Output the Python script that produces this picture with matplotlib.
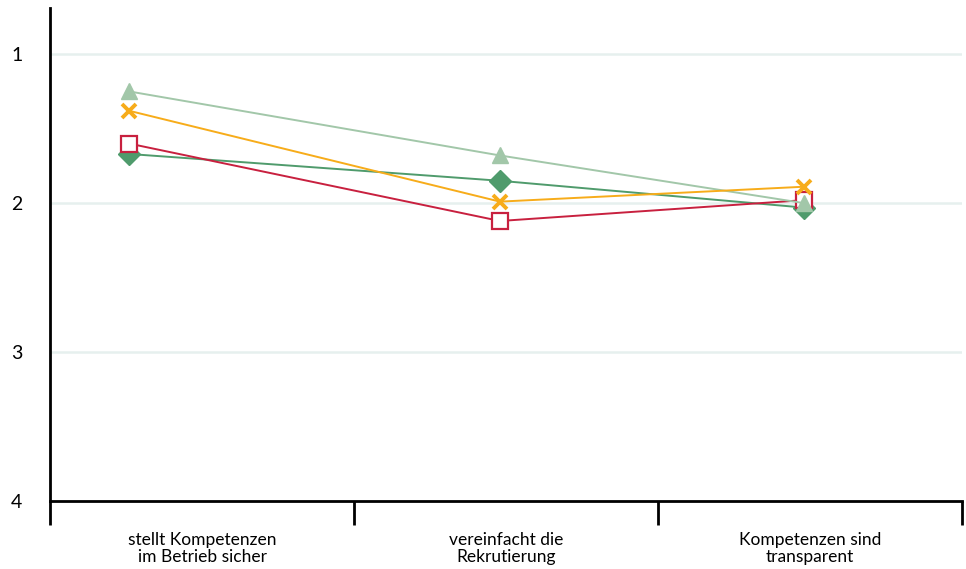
import numpy as np
import matplotlib.pyplot as plt
plt.rcParams.update({'font.size': 11, 'font.family': 'Lato'})

categories = ['stellt Kompetenzen\nim Betrieb sicher',
              'vereinfacht die\nRekrutierung',
              'Kompetenzen sind\ntransparent']
x_pos = [0.26, 1.48, 2.48]

diamond_vals = [1.67, 1.85, 2.03]
square_vals = [1.60, 2.12, 1.98]
triangle_vals = [1.25, 1.68, 2.00]
cross_vals = [1.38, 1.99, 1.89]

fig = plt.figure(figsize=(9.66, 5.69), dpi=100)
ax = fig.add_axes([50/966, 1-501/569, 912/966, 493/569])

ax.plot(x_pos, diamond_vals, color='#4f9b6c', lw=1.4, marker='D',
        markersize=11, zorder=3)
ax.plot(x_pos, square_vals, color='#c8203f', lw=1.4, marker='s',
        markersize=12, mfc='white', mew=1.6, zorder=4)
ax.plot(x_pos, triangle_vals, color='#a2c7a9', lw=1.4, marker='^',
        markersize=11, zorder=5)
ax.plot(x_pos, cross_vals, color='#f7ac1a', lw=1.4, marker='x',
        markersize=10, mew=2.8, zorder=6)

ax.set_xlim(0, 3)
ax.set_ylim(4, 0.69)
ax.set_yticks([1, 2, 3, 4])
ax.set_yticklabels(['1', '2', '3', '4'])
ax.tick_params(axis='y', length=0, pad=20, labelsize=14)
for v in [1, 2, 3]:
    ax.axhline(v, color='#e6f0ee', lw=1.8, zorder=0)

ax.set_xticks([0, 1, 2, 3])
ax.set_xticklabels([])
ax.tick_params(axis='x', which='major', length=17, width=2, color='black')
ax.set_xticks([0.5, 1.5, 2.5], minor=True)
ax.set_xticklabels(categories, minor=True, linespacing=1.1)
ax.tick_params(axis='x', which='minor', length=0, pad=22, labelsize=12.5)

ax.spines['top'].set_visible(False)
ax.spines['right'].set_visible(False)
ax.spines['left'].set_linewidth(2)
ax.spines['bottom'].set_linewidth(2)

plt.savefig('out.png', dpi=100)
